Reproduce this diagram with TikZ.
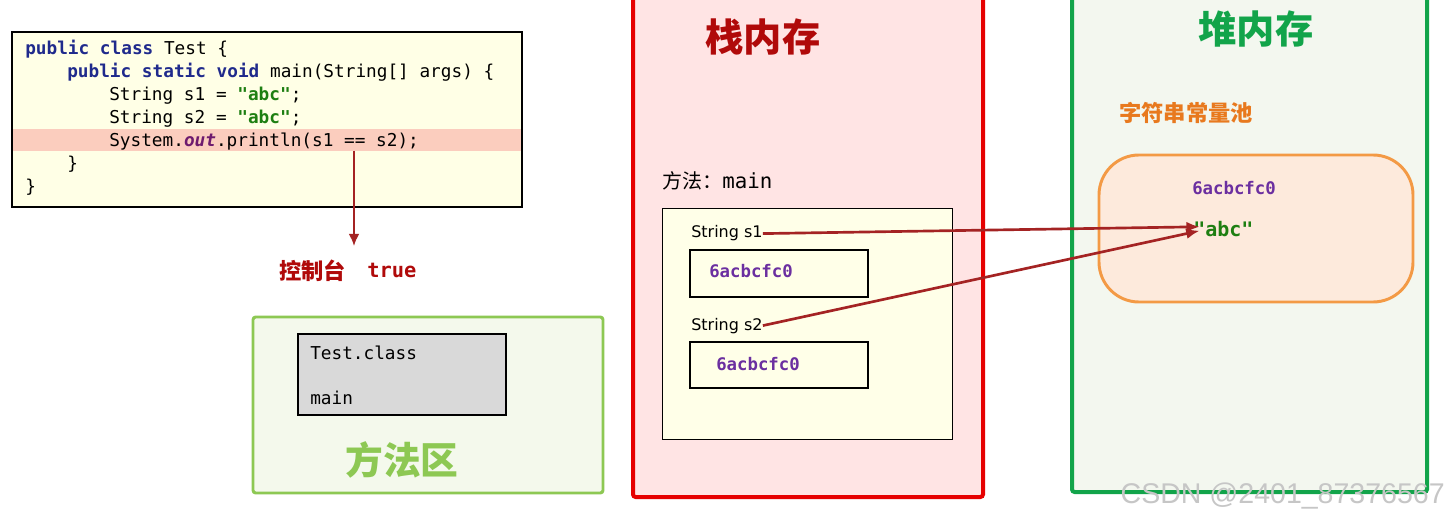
\documentclass[tikz,border=0pt]{standalone}
\usepackage{fontspec}
\setmainfont{DejaVu Sans}
\setmonofont{DejaVu Sans Mono}
\newfontfamily\cjk{Noto Sans CJK SC}
\newfontfamily\wmfont{Liberation Sans}
\usetikzlibrary{arrows.meta, positioning}

\definecolor{codebg}{HTML}{FFFFE6}
\definecolor{hlrow}{HTML}{FBCDBE}
\definecolor{kwblue}{HTML}{1F2A8C}
\definecolor{strgreen}{HTML}{1E7F12}
\definecolor{outpurple}{HTML}{6E1A6E}
\definecolor{consred}{HTML}{B00A0A}
\definecolor{mafill}{HTML}{F4F9EC}
\definecolor{maline}{HTML}{8DC853}
\definecolor{classgray}{HTML}{D9D9D9}
\definecolor{stackfill}{HTML}{FFE4E4}
\definecolor{stackline}{HTML}{E60000}
\definecolor{framebg}{HTML}{FFFFE8}
\definecolor{addrpurple}{HTML}{6B2FA0}
\definecolor{heapfill}{HTML}{F3F7EF}
\definecolor{heapline}{HTML}{12A44A}
\definecolor{poolorange}{HTML}{E8791E}
\definecolor{poolfill}{HTML}{FDEADC}
\definecolor{poolline}{HTML}{F39A45}
\definecolor{refred}{HTML}{A42323}

\newcommand\javakw[1]{\textbf{\color{kwblue}#1}}
\newcommand\javastr[1]{\textbf{\color{strgreen}#1}}
\newcommand\javaout[1]{\textbf{\itshape\color{outpurple}#1}}
\newcommand\codefont{\ttfamily\fontsize{13.3}{15}\selectfont}

\begin{document}
\begin{tikzpicture}[
  x=0.75pt, y=-0.75pt,
  code/.style={anchor=base west, inner sep=0pt, font=\codefont},
  addr/.style={anchor=base west, inner sep=0pt, text=addrpurple,
    font=\ttfamily\bfseries\fontsize{13}{15}\selectfont},
  var/.style={anchor=base west, inner sep=0pt, font=\fontsize{12}{14}\selectfont},
  title/.style={anchor=base, inner sep=0pt, font=\cjk\bfseries\fontsize{28.7}{32}\selectfont},
  ref/.style={-{Latex[length=10pt, width=8pt]}, line width=2pt, draw=refred, shorten >=-5pt},
  slot/.style={draw=black, line width=1.9pt}
]
\useasboundingbox (0,0) rectangle (1450,520);
\fill[white] (0,0) rectangle (1450,520);

% source code
\fill[codebg] (12,32) rectangle (522,207);
\fill[hlrow] (13,129) rectangle (521,151);
\draw[line width=1.1pt] (12,32) rectangle (522,207);
\node[code] (l1) at (25,55) {\javakw{public class} Test \{};
\node[code] (l2) at (67,78) {\javakw{public static void} main(String[] args) \{};
\node[code] (l3) at (109,101) {String s1 = \javastr{"abc"};};
\node[code] (l4) at (109,124) {String s2 = \javastr{"abc"};};
\node[code] (l5) at (109,147) {System.\javaout{out}.println(s1 == s2);};
\node[code] (l6) at (67,170) {\}};
\node[code] (l7) at (25,193) {\}};

% console output
\coordinate (eq) at (354,151);
\coordinate (cout) at (354,246);
\draw[-{Latex[length=9pt, width=8pt]}, line width=1.5pt, draw=refred, fill=refred] (eq) -- (cout);
\node[anchor=base west, inner sep=0pt, text=consred,
  font=\cjk\bfseries\fontsize{16.7}{19}\selectfont] (cons) at (279,279.5) {控制台};
\node[anchor=base west, inner sep=0pt, text=consred,
  font=\ttfamily\bfseries\fontsize{15.3}{17}\selectfont] (res) at (367,278) {true};

% method area
\draw[fill=mafill, draw=maline, line width=2.2pt, rounded corners=2pt] (253,317) rectangle (603,493);
\draw[fill=classgray, line width=1.5pt] (298,334) rectangle (506,415);
\node[code] (cls) at (310,359) {Test.class};
\node[code] (mth) at (310,404) {main};
\node[title, text=maline, font=\cjk\bfseries\fontsize{28.3}{32}\selectfont] (ma) at (402,474.5) {方法区};

% stack
\draw[fill=stackfill, draw=stackline, line width=3pt, rounded corners=2pt] (633,-10) rectangle (983,497);
\node[title, text=consred] (stk) at (763,51.5) {栈内存};
\node[anchor=base west, inner sep=0pt, font=\cjk\fontsize{15}{17}\selectfont] (frm) at (662,189)
  {方法：\ttfamily\fontsize{15.6}{17}\selectfont main};
\draw[fill=framebg, line width=0.75pt] (662,209) rectangle (952,439);
\node[var] (s1) at (691,238) {String s1};
\draw[slot] (690,250) rectangle (868,297);
\node[addr] (a1) at (709,278) {6acbcfc0};
\node[var] (s2) at (691,330) {String s2};
\draw[slot] (690,342) rectangle (868,388);
\node[addr] (a2) at (716,371) {6acbcfc0};

% heap
\draw[fill=heapfill, draw=heapline, line width=3pt, rounded corners=2pt] (1072,-10) rectangle (1427,492);
\node[title, text=heapline] (hp) at (1256,44) {堆内存};
\node[anchor=base west, inner sep=0pt, text=poolorange,
  font=\cjk\bfseries\fontsize{16.7}{19}\selectfont] (pool) at (1119,121.5) {字符串常量池};
\draw[fill=poolfill, draw=poolline, line width=2.2pt, rounded corners=30pt] (1099,155) rectangle (1413,302);
\node[addr] (a3) at (1192,195) {6acbcfc0};
\node[anchor=base west, inner sep=0pt, text=strgreen,
  font=\ttfamily\bfseries\fontsize{15}{17}\selectfont] (abc) at (1193,237) {"abc"};

% references
\draw[ref] (s1.east) -- ([yshift=2pt]abc.west);
\draw[ref] (s2.east) -- ([yshift=-2pt]abc.west);

% watermark
\node[anchor=base east, inner sep=0pt, text=gray!45,
  font=\wmfont\fontsize{21.4}{24}\selectfont] (wm) at (1445,503) {CSDN @2401\_87376567};
\end{tikzpicture}
\end{document}
